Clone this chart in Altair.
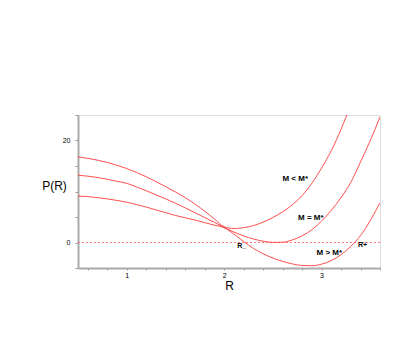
import altair as alt
import pandas as pd

# Sampled readings of the three P(R) curves
r_a = [0.5, 0.6, 0.7, 0.8, 0.9, 1.0, 1.1, 1.2, 1.3, 1.4, 1.5, 1.6, 1.7, 1.8, 1.9, 2.0,
       2.1, 2.2, 2.3, 2.4, 2.5, 2.6, 2.7, 2.8, 2.9, 3.0, 3.1, 3.2, 3.3]
p_a = [16.8, 16.5, 16.15, 15.7, 15.15, 14.5, 13.75, 12.9, 11.95, 10.95, 9.9, 8.8, 7.55, 6.15, 4.6, 3.1,
       2.75, 2.9, 3.3, 4.0, 4.9, 6.0, 7.4, 9.2, 11.6, 14.6, 18.0, 22.2, 27.0]

r_b = [0.5, 0.6, 0.7, 0.8, 0.9, 1.0, 1.1, 1.2, 1.3, 1.4, 1.5, 1.6, 1.7, 1.8, 1.9, 2.0,
       2.1, 2.2, 2.3, 2.4, 2.5, 2.6, 2.7, 2.8, 2.9, 3.0, 3.1, 3.2, 3.3, 3.4, 3.5, 3.6]
p_b = [13.2, 13.0, 12.75, 12.4, 12.0, 11.6, 10.9, 10.15, 9.35, 8.55, 7.7, 6.8, 5.85, 4.9, 3.95, 2.95,
       2.05, 1.3, 0.7, 0.25, 0.03, 0.05, 0.5, 1.3, 2.5, 4.2, 6.3, 8.8, 11.8, 15.8, 20.0, 24.6]

r_c = [0.5, 0.6, 0.7, 0.8, 0.9, 1.0, 1.1, 1.2, 1.3, 1.4, 1.5, 1.6, 1.7, 1.8, 1.9, 2.0,
       2.1, 2.2, 2.3, 2.4, 2.5, 2.6, 2.7, 2.8, 2.9, 3.0, 3.1, 3.2, 3.3, 3.4, 3.5, 3.6]
p_c = [9.1, 9.0, 8.8, 8.55, 8.25, 7.9, 7.45, 6.95, 6.4, 5.85, 5.3, 4.85, 4.4, 3.9, 3.4, 2.9,
       1.65, 0.2, -1.15, -2.2, -3.05, -3.7, -4.2, -4.5, -4.55, -4.25, -3.55, -2.4, -0.75, 1.35, 4.3, 7.8]

# Annotations
label_text = ["M < M*", "M = M*", "M > M*"]
label_r = [2.73, 2.89, 3.08]
label_p = [12.5, 4.8, -2.1]
root_text = ["R_", "R+"]
root_r = [2.18, 3.42]
root_p = [-0.6, -0.4]

x_ticks = [round(0.6 + 0.2 * i, 1) for i in range(16)]
y_ticks = [-5, 0, 5, 10, 15, 20, 25]

rows = []
for name, rs, ps in (("a", r_a, p_a), ("b", r_b, p_b), ("c", r_c, p_c)):
    for r, p in zip(rs, ps):
        rows.append({"curve": name, "R": r, "P": p})
curves = pd.DataFrame(rows)
labels = pd.DataFrame({"t": label_text, "R": label_r, "P": label_p})
roots = pd.DataFrame({"t": root_text, "R": root_r, "P": root_p})
zero = pd.DataFrame({"R": [0.5, 3.6], "P": [0, 0]})

red = "#ff3b3b"
xs = alt.Scale(domain=[0.5, 3.6], nice=False, zero=False)
ys = alt.Scale(domain=[-5, 25], nice=False, zero=False)

xaxis = alt.Axis(
    values=x_ticks, title="R", grid=False, labelOverlap=False,
    labelExpr="abs(datum.value - round(datum.value)) < 0.01 ? format(datum.value, '.0f') : ''",
    labelFont="Liberation Sans", labelFontSize=7, labelColor="black", labelPadding=1,
    tickSize=2, tickColor="#999", domainColor="#aaa", domainWidth=2,
    titleFont="Liberation Sans", titleFontSize=12, titleFontWeight="normal",
    titleY=17, titleBaseline="middle", titleColor="black",
)
yaxis = alt.Axis(
    values=y_ticks, title="P(R)", grid=False, labelOverlap=False,
    labelExpr="datum.value == 0 || datum.value == 20 ? format(datum.value, 'd') : ''",
    labelFont="Liberation Sans", labelFontSize=7, labelColor="black", labelPadding=5,
    tickSize=3, tickColor="#999", domainColor="#aaa", domainWidth=2,
    titleFont="Liberation Sans", titleFontSize=12, titleFontWeight="normal",
    titleAngle=0, titleX=-24, titleY=70, titleAlign="center", titleBaseline="middle",
    titleColor="black",
)

X = alt.X("R:Q", scale=xs, axis=xaxis)
Y = alt.Y("P:Q", scale=ys, axis=yaxis)

lines = alt.Chart(curves).mark_line(color=red, strokeWidth=0.9, clip=True, interpolate="monotone").encode(
    x=X, y=Y, detail="curve:N",
)
zl = alt.Chart(zero).mark_line(color="#ff5a5a", strokeWidth=0.8, strokeDash=[2, 2]).encode(x=X, y=Y)
lt = alt.Chart(labels).mark_text(font="Liberation Sans", fontSize=8, fontWeight="bold", color="black").encode(
    x=X, y=Y, text="t:N"
)
rt = alt.Chart(roots).mark_text(font="Liberation Sans", fontSize=7, fontWeight="bold", color="black").encode(
    x=X, y=Y, text="t:N"
)

chart = alt.layer(zl, lines, lt, rt).properties(
    width=302, height=153,
    autosize=alt.AutoSizeParams(type="none"),
    padding={"left": 70, "top": 107, "right": 20, "bottom": 60},
).configure_view(stroke="#999", strokeWidth=1).configure(background="white")

chart.save("out.html", embed_options={"renderer": "svg", "actions": False})
